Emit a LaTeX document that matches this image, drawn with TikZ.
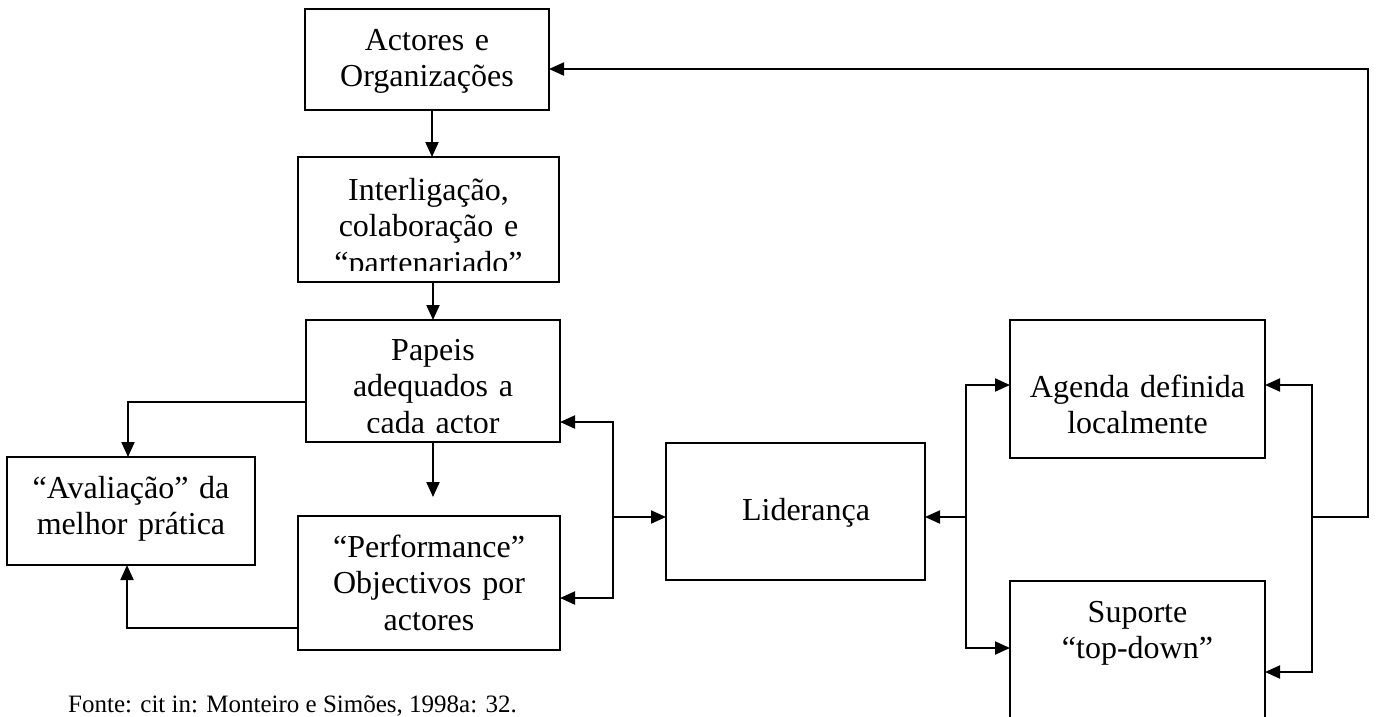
\documentclass[tikz,border=0pt]{standalone}
\usepackage{fontspec}
\setmainfont{Liberation Serif}
\usetikzlibrary{arrows.meta,calc}
\begin{document}
\begin{tikzpicture}[x=1pt,y=-1pt,
  box/.style={draw,line width=2pt,inner sep=0pt,outer sep=0pt},
  txt/.style={font=\fontsize{32}{36.5}\selectfont,align=center,text width=320pt,inner sep=0pt,anchor=base},
  conn/.style={line width=2pt,line join=miter},
  tip/.tip={Triangle[length=15pt,width=13pt]},
  arr/.style={conn,-tip},
  darr/.style={conn,tip-tip}]
\useasboundingbox (0,0) rectangle (1376,716);
% boxes
\node[box,minimum width=244pt,minimum height=101pt] (A) at (427,59.5) {};
\node[box,minimum width=261pt,minimum height=125pt] (B) at (428.5,219.5) {};
\node[box,minimum width=254pt,minimum height=122pt] (C) at (433,381) {};
\node[box,minimum width=248pt,minimum height=108pt] (D) at (131,511) {};
\node[box,minimum width=262pt,minimum height=134pt] (E) at (429,583) {};
\node[box,minimum width=259pt,minimum height=137pt] (L) at (795.5,511.5) {};
\node[box,minimum width=255pt,minimum height=138pt] (G) at (1137.5,389) {};
\node[box,minimum width=255pt,minimum height=179pt] (S) at (1137.5,670.5) {};
% texts
\node[txt] (tA) at (427,50) {Actores e\\Organizações};
\begin{scope}
  \clip (B.north west) rectangle ([yshift=12pt]B.south east);
  \node[txt] (tB) at (428.5,200) {Interligação,\\colaboração e\\“partenariado”};
\end{scope}
\begin{scope}
  \clip (C.north west) rectangle ([yshift=10pt]C.south east);
  \node[txt] (tC) at (433,360) {Papeis\\adequados a\\cada actor};
\end{scope}
\node[txt] (tD) at (131,498) {“Avaliação” da\\melhor prática};
\node[txt] (tE) at (429,557) {“Performance”\\Objectivos por\\actores};
\node[txt] (tL) at (806,520) {Liderança};
\node[txt] (tG) at (1137.5,397) {Agenda definida\\localmente};
\node[txt] (tS) at (1137.5,622) {Suporte\\“top-down”};
\node[font=\fontsize{25}{28}\selectfont,inner sep=0pt,anchor=base west] (foot) at (68,712.5) {Fonte: cit in: Monteiro e Simões, 1998a: 32.};
% bend coordinates
\coordinate (cD) at (433,497);
\coordinate (cL) at (128,402);
\coordinate (eL) at (127,628);
\coordinate (jl) at (613,517);
\coordinate (jlt) at (613,422);
\coordinate (jlb) at (613,598);
\coordinate (jr) at (966,517);
\coordinate (jrt) at (966,385);
\coordinate (jrb) at (966,648);
\coordinate (kt) at (1312,385);
\coordinate (kb) at (1312,672);
\coordinate (km) at (1312,517);
\coordinate (kr) at (1368,517);
\coordinate (ktop) at (1368,69);
% connectors
\draw[arr] ([xshift=5pt]A.south) -- ([xshift=5pt]A.south |- B.north);
\draw[arr] ([xshift=4.5pt]B.south) -- ([xshift=4.5pt]B.south |- C.north);
\draw[arr] (C.south) -- (cD);
\draw[arr] (C.west |- cL) -- (cL) -- (cL |- D.north);
\draw[arr] (E.west |- eL) -- (eL) -- (eL |- D.south);
\draw[darr] (jlt -| C.east) -- (jlt) -- (jlb) -- (jlb -| E.east);
\draw[arr] (jl) -- (jl -| L.west);
\draw[darr] (jrt -| G.west) -- (jrt) -- (jrb) -- (jrb -| S.west);
\draw[arr] (jr) -- (jr -| L.east);
\draw[darr] (kt -| G.east) -- (kt) -- (kb) -- (kb -| S.east);
\draw[arr] (km) -- (kr) -- (ktop) -- (ktop -| A.east);
\end{tikzpicture}
\end{document}
